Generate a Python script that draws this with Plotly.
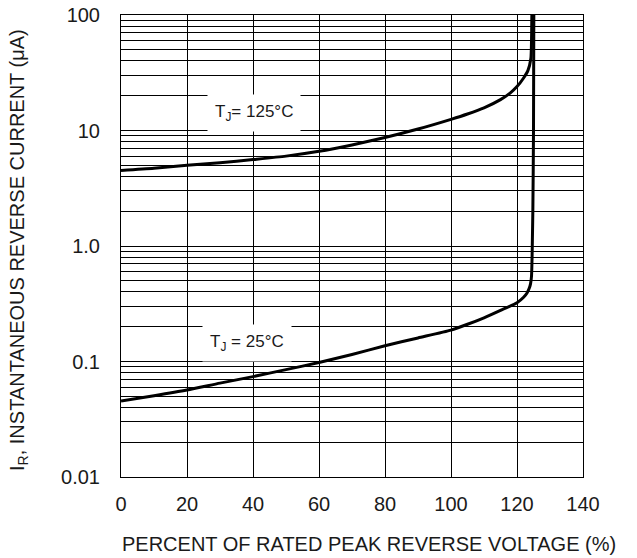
import plotly.graph_objects as go

# 125 °C curve: percent of rated peak reverse voltage vs reverse current (µA)
x_125 = [0, 10, 20, 30, 40, 50, 60, 70, 80, 90, 100, 105, 110, 115, 118, 120, 122, 123.3, 124.2, 124.4, 124.5]
y_125 = [4.5, 4.7, 5.0, 5.25, 5.6, 6.0, 6.6, 7.5, 8.7, 10.3, 12.5, 13.9, 15.7, 18.5, 21.2, 24.0, 28.5, 33.0, 42.0, 60.0, 100.0]

# 25 °C curve
x_25 = [0, 10, 20, 30, 40, 50, 60, 70, 80, 90, 100, 105, 110, 115, 120, 122, 123, 123.7, 124.1, 124.4, 124.8, 125.0, 125.1]
y_25 = [0.0455, 0.0505, 0.0566, 0.065, 0.074, 0.085, 0.098, 0.115, 0.137, 0.16, 0.187, 0.21, 0.239, 0.277, 0.323, 0.36, 0.39, 0.43, 0.47, 0.55, 2.0, 10.0, 100.0]

x_ticks = [0, 20, 40, 60, 80, 100, 120, 140]
y_tickvals = [0.01, 0.1, 1, 10, 100]
y_ticktext = ["0.01", "0.1", "1.0", "10", "100"]
y_minor = [m * 10.0 ** e for e in range(-2, 2) for m in range(2, 10)]

FONT = "Liberation Sans, Arial, sans-serif"
TXT = "#1a1a1a"

fig = go.Figure()
fig.add_trace(go.Scatter(x=x_125, y=y_125, mode="lines", line_shape="spline",
                         line=dict(color="black", width=3, smoothing=0.6), showlegend=False))
fig.add_trace(go.Scatter(x=x_25, y=y_25, mode="lines", line_shape="spline",
                         line=dict(color="black", width=3, smoothing=0.6), showlegend=False))

L, R, T, B = 121, 637 - 583, 15, 558 - 477
W, H = 637, 558
fig.update_layout(
    width=W, height=H,
    margin=dict(l=L, r=R, t=T, b=B, autoexpand=False),
    paper_bgcolor="white", plot_bgcolor="white",
    font=dict(family=FONT, size=20, color=TXT),
    showlegend=False,
)
fig.update_xaxes(
    range=[0, 140], tickvals=x_ticks, showgrid=True, gridcolor="black", gridwidth=1,
    showline=True, linecolor="black", linewidth=1, mirror=True, zeroline=False,
    automargin=False, ticks="", ticklabelstandoff=9, tickfont=dict(size=20, family=FONT, color=TXT),
)
fig.update_yaxes(
    type="log", range=[-2, 2], tickvals=y_tickvals, ticktext=y_ticktext,
    showgrid=True, gridcolor="black", gridwidth=1,
    minor=dict(tickvals=y_minor, showgrid=True, gridcolor="black", gridwidth=1, ticks=""),
    showline=True, linecolor="black", linewidth=1, mirror=True, zeroline=False,
    automargin=False, ticks="", ticklabelstandoff=16, tickfont=dict(size=20, family=FONT, color=TXT),
)

fig.add_annotation(x=40.3, y=1.154, xref="x", yref="y", text="T<sub>J</sub>= 125°C",
                   showarrow=False, bgcolor="white", borderpad=7,
                   font=dict(size=17, family=FONT, color=TXT))
fig.add_annotation(x=38.2, y=-0.844, xref="x", yref="y", text="T<sub>J</sub> = 25°C",
                   showarrow=False, bgcolor="white", borderpad=7,
                   font=dict(size=17, family=FONT, color=TXT))

# screen-pixel positions of the axis titles, converted to paper coordinates
pw, ph = W - L - R, H - T - B
fig.add_annotation(x=(369 - L) / pw, y=1 - (544 - T) / ph, xref="paper", yref="paper",
                   xanchor="center", yanchor="middle",
                   text="PERCENT OF RATED PEAK REVERSE VOLTAGE (%)",
                   showarrow=False, font=dict(size=20, family=FONT, color=TXT))
fig.add_annotation(x=(18 - L) / pw, y=1 - (250 - T) / ph, xref="paper", yref="paper",
                   xanchor="center", yanchor="middle",
                   text="I<sub>R</sub>, INSTANTANEOUS REVERSE CURRENT (μA)",
                   textangle=-90, showarrow=False, font=dict(size=20, family=FONT, color=TXT))

fig.write_html("out.html", config={"displayModeBar": False},
               post_script="document.body.style.margin='0';")
